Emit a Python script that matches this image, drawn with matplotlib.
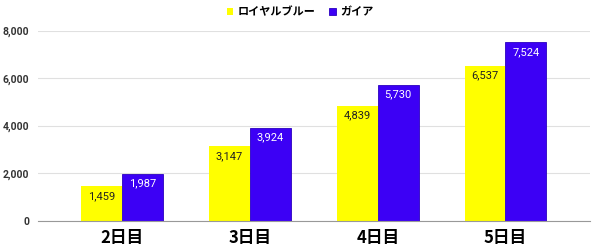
import matplotlib.pyplot as plt
import numpy as np

plt.rcParams['font.family'] = ['Roboto', 'Noto Sans CJK JP', 'DejaVu Sans']

CATEGORIES = ['2日目', '3日目', '4日目', '5日目']
SERIES = ['ロイヤルブルー', 'ガイア']
ROYAL_BLUE = [1459, 3147, 4839, 6537]
GAIA = [1987, 3924, 5730, 7524]
COLORS = ['#ffff00', '#3c00f5']
Y_TICKS = [0, 2000, 4000, 6000, 8000]


def go():
    fig = plt.figure(figsize=(6, 2.52), dpi=100)
    ax = fig.add_axes([0.063, 0.123, 0.92, 0.755])
    x = np.arange(len(CATEGORIES))
    w = 0.32
    b1 = ax.bar(x - w / 2, ROYAL_BLUE, w, color=COLORS[0], label=SERIES[0], zorder=2)
    b2 = ax.bar(x + w / 2, GAIA, w, color=COLORS[1], edgecolor='#2a00c0',
                linewidth=0.6, label=SERIES[1], zorder=2)

    for rect, v in zip(b1, ROYAL_BLUE):
        ax.text(rect.get_x() + rect.get_width() / 2, v - 200, f'{v:,}',
                ha='center', va='top', fontsize=8, color='#222222')
    for rect, v in zip(b2, GAIA):
        ax.text(rect.get_x() + rect.get_width() / 2, v - 200, f'{v:,}',
                ha='center', va='top', fontsize=8, color='white')

    ax.set_xlim(-0.66, 3.66)
    ax.set_ylim(0, 8000)
    ax.set_yticks(Y_TICKS)
    ax.set_yticklabels([f'{t:,}' for t in Y_TICKS], fontsize=7.5, color='#333333',
                       fontweight='bold')
    ax.set_xticks(x)
    ax.set_xticklabels(CATEGORIES, fontsize=12, fontweight='bold',
                       family=['Noto Sans CJK JP', 'DejaVu Sans'])
    ax.tick_params(axis='both', length=0)
    ax.tick_params(axis='y', pad=6)
    ax.tick_params(axis='x', pad=6)
    ax.yaxis.grid(True, color='#e0e0e0', linewidth=0.8, zorder=0)
    for s in ['top', 'right', 'left']:
        ax.spines[s].set_visible(False)
    ax.spines['bottom'].set_color('#999999')
    ax.spines['bottom'].set_linewidth(0.8)

    fig.legend(loc='upper center', bbox_to_anchor=(0.5, 1.02), ncol=2, frameon=False,
               handlelength=0.6, handleheight=0.6, handletextpad=0.4, columnspacing=1.2,
               prop={'family': ['Noto Sans CJK JP', 'DejaVu Sans'], 'weight': 'bold', 'size': 8})

    fig.savefig('out.png', dpi=100)
    plt.close(fig)


go()
